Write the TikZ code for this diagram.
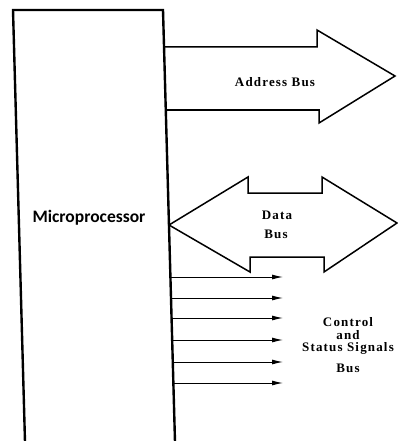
\documentclass[tikz,border=0pt]{standalone}
\usepackage{fontspec}
\setmainfont{Liberation Serif}
\newfontfamily\cpufont{Carlito}
\newfontfamily\busfont[LetterSpace=9]{Liberation Serif}
\usetikzlibrary{arrows.meta,calc}
\begin{document}
\begin{tikzpicture}[x=1pt,y=-1pt,
  cpuedge/.style={line width=2.4pt,line join=miter},
  busoutline/.style={line width=1.5pt,line join=miter},
  ctrlarrow/.style={line width=1pt,-{Latex[length=11pt,width=5pt]}},
  buslabel/.style={font=\busfont\bfseries\fontsize{13}{12.6}\selectfont,inner sep=0pt,align=center},
  cpulabel/.style={font=\cpufont\bfseries\fontsize{17.5}{20}\selectfont,inner sep=0pt}]
\useasboundingbox (0,0) rectangle (398,441);
% microprocessor box (slightly skewed, as scanned)
\coordinate (tl) at (13,10);
\coordinate (tr) at (163,10);
\coordinate (br) at (175,442);
\coordinate (bl) at (25,442);
\draw[cpuedge] (bl) -- (tl) -- (tr) -- (br);
\node[cpulabel] (cpu) at (89,218) {Microprocessor};
% address bus
\draw[busoutline] (164,47) -- (317,47) -- (317,30) -- (395,76) -- (319,123) -- (319,110) -- (166,110);
\node[buslabel] (addr) at (275,82) {Address Bus};
% data bus
\draw[busoutline] (169,225) -- (248,177) -- (248,193) -- (322,193) -- (322,177) -- (397,223)
  -- (324,272) -- (324,257) -- (250,257) -- (250,272) -- cycle;
\node[buslabel] (data) at (277,215) {Data};
\node[buslabel] (databus) at (276,234) {Bus};
% control signals
\foreach \i/\y in {1/277,2/298,3/318,4/340,5/362,6/383}{
  \coordinate (s\i) at ({163+12*(\y-10)/432},\y);
  \coordinate (e\i) at (283,\y);
  \draw[ctrlarrow] (s\i) -- (e\i);
}
\node[buslabel] (ctrl) at (348,336) {Control\\and\\Status Signals};
\node[buslabel] (ctrlbus) at (348,368) {Bus};
\end{tikzpicture}
\end{document}
